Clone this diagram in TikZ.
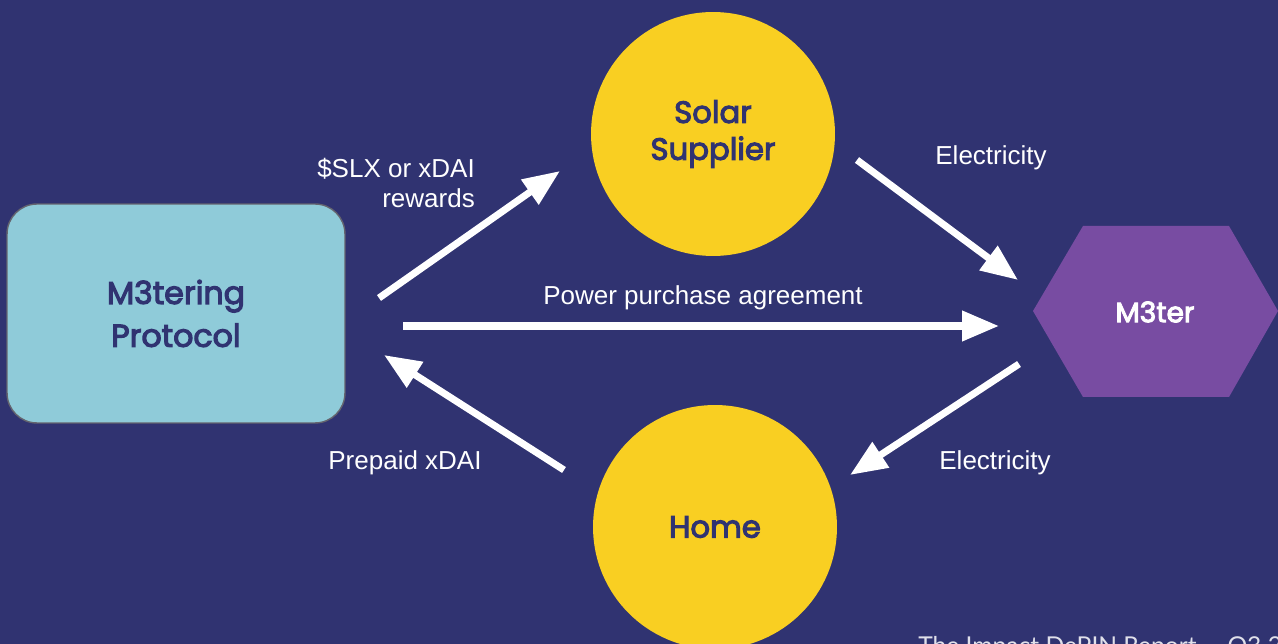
\documentclass[tikz,border=0pt]{standalone}
\usepackage{fontspec}
\setmainfont{Liberation Sans}
\newfontfamily\headfont{Poppins}[BoldFont=*, BoldFeatures={FakeBold=3.5}]
\newfontfamily\footfont{Lato}
\usetikzlibrary{arrows.meta}

\definecolor{bgnavy}{RGB}{48,51,113}
\definecolor{boxblue}{RGB}{143,203,217}
\definecolor{sunyellow}{RGB}{249,207,34}
\definecolor{meterpurple}{RGB}{120,76,162}
\definecolor{edgegray}{RGB}{100,100,110}

\tikzset{
    flow/.style={draw=white, line width=4pt, -{Triangle[length=21pt,width=16.5pt]}},
    lbl/.style={text=white, font=\fontsize{14.8}{17.5}\selectfont},
    party/.style={circle, fill=sunyellow, minimum size=4.88cm, inner sep=0pt,
        align=center, text=bgnavy, font=\headfont\bfseries\fontsize{17.5}{21}\selectfont}
}

\begin{document}
\begin{tikzpicture}[x=0.02cm, y=-0.02cm]
    % Background
    \fill[bgnavy] (0,0) rectangle (1278,644);
    \useasboundingbox (0,0) rectangle (1278,644);

    % Define nodes
    \node (proto) at (176,313.5) [draw=edgegray, line width=0.8pt, fill=boxblue,
        rounded corners=0.6cm, minimum width=6.76cm, minimum height=4.38cm,
        align=center, text=bgnavy,
        font=\headfont\bfseries\fontsize{18}{24.4}\selectfont] {M3tering\\Protocol};
    \node (solar) at (713,134) [party] {Solar\\Supplier};
    \node (home) at (715,527) [party] {Home};

    \fill[meterpurple] (1033,311) -- (1083,226) -- (1229,226) -- (1278,311)
        -- (1229,397) -- (1083,397) -- cycle;
    \node (m3ter) at (1155,312) [text=white, font=\headfont\bfseries\fontsize{16}{19}\selectfont] {M3ter};

    % Arrow ends
    \coordinate (rw1) at (379,298);
    \coordinate (rw2) at (560,171);
    \coordinate (pp1) at (403,326);
    \coordinate (pp2) at (999,326);
    \coordinate (px1) at (564,470);
    \coordinate (px2) at (384,355);
    \coordinate (el1) at (857,160);
    \coordinate (el2) at (1018,280);
    \coordinate (el3) at (1019,364);
    \coordinate (el4) at (850,475);

    % Draw arrows
    \draw[flow] (rw1) -- (rw2);
    \draw[flow] (pp1) -- (pp2);
    \draw[flow] (px1) -- (px2);
    \draw[flow] (el1) -- (el2);
    \draw[flow] (el3) -- (el4);

    % Labels
    \node (lrw) at (481,183) [lbl, anchor=east, align=right] {\$SLX or xDAI\\rewards};
    \node (lpp) at (703,298) [lbl] {Power purchase agreement};
    \node (lel1) at (991,158) [lbl] {Electricity};
    \node (lpx) at (405,463) [lbl] {Prepaid xDAI};
    \node (lel2) at (995,463) [lbl] {Electricity};

    % Footer
    \node (foot) at (918,655) [anchor=base west, inner sep=0pt, text=white!85!bgnavy,
        font=\footfont\fontsize{14}{17}\selectfont] {The Impact DePIN Report -- Q3 20};
\end{tikzpicture}
\end{document}
